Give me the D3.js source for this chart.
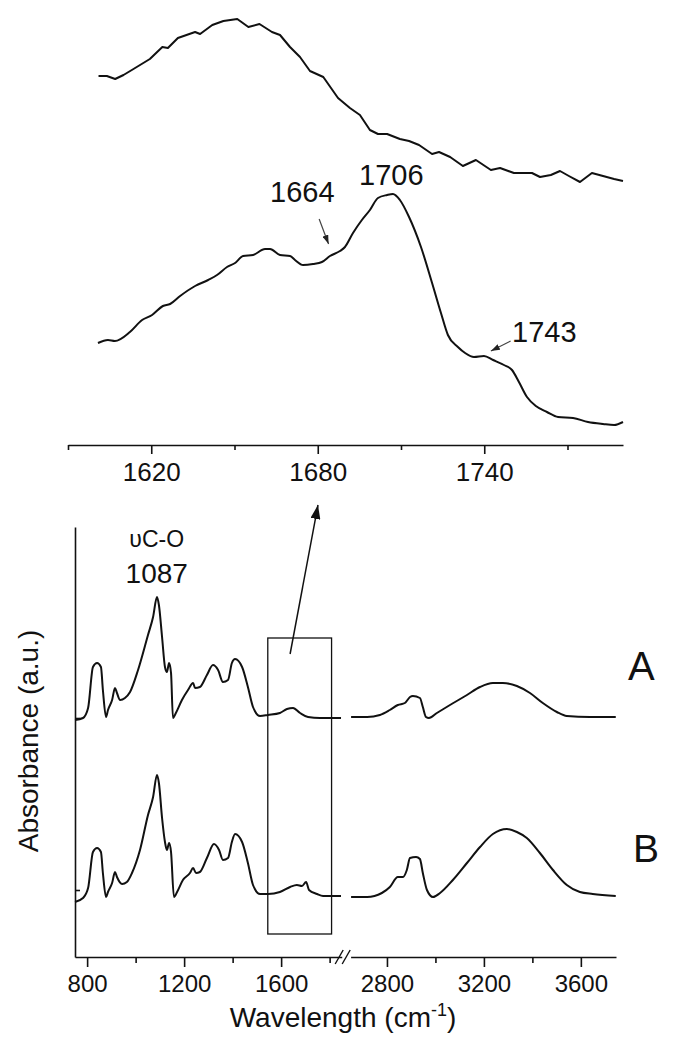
<!DOCTYPE html>
<html><head><meta charset="utf-8">
<script src="https://cdn.jsdelivr.net/npm/d3@7"></script>
<style>body{margin:0;background:#fff}text{font-family:"Liberation Sans",Arial,sans-serif;fill:#111}</style>
</head><body>
<svg id="c" width="700" height="1045"></svg>
<script>
// ---- tick values ----
const insetTicks = [1620, 1680, 1740];
const insetMinor = [1590, 1650, 1710, 1770];
const lowTicks = [800, 1200, 1600];
const lowMinor = [1000, 1400, 1800];
const highTicks = [2800, 3200, 3600];
const highMinor = [3000, 3400];
const yTicks = [67, 239];

// ---- inset (1590-1790 cm-1), absorbance a.u. ----
const insetUpper = [[1601,369],[1604,369],[1607,366],[1610,370],[1613,375],[1619.5,386],[1624,398],[1626,397],[1629.6,407],[1635.8,413],[1637.6,411],[1642,420],[1646,424],[1651,426],[1655,418],[1659,421],[1663.5,413],[1666.4,410],[1670,398],[1673.6,388],[1677.2,374],[1682,368],[1687.3,347],[1691.6,337],[1695.2,330],[1698.8,315],[1701.7,311],[1705,311],[1709.6,306],[1712.9,304],[1716.5,300],[1721.2,291],[1723.7,293],[1727.7,288],[1732.3,279],[1737,285],[1742.4,275],[1745.7,277],[1750.7,272],[1757.2,272],[1760.1,268],[1764,270],[1767.3,274],[1770.5,269],[1774.5,263],[1778.8,272],[1782.8,269],[1786.8,266],[1790,264]];
const insetLower = [[1600.8,102],[1604.4,105],[1606.9,104],[1612.3,113],[1616.7,125],[1620.3,130],[1624.2,139],[1626.8,141],[1630.4,149],[1635.8,159],[1640.5,165],[1643.7,170],[1647.3,178],[1650.2,182],[1653.1,189],[1656.7,190],[1661,196],[1662.8,196],[1666.4,190],[1670,189],[1671.8,185],[1674.7,180],[1678.3,181],[1681.5,183],[1684.4,189],[1688,194],[1689.8,198],[1692.7,212],[1695.9,225],[1698.8,235],[1701.7,247],[1705,250],[1707.1,251],[1709.6,245],[1712.9,228],[1717.2,198],[1721.2,162],[1724.4,132],[1726.9,110],[1730.5,98],[1733.1,92],[1736.3,88],[1739.9,89],[1743.2,85],[1747.1,80],[1750,75],[1752.5,63],[1755.4,48],[1758.6,39],[1762.6,33],[1766.6,28],[1772,27],[1777.4,23],[1782.8,21],[1786.8,20],[1790,23]];

// ---- main spectra, low range (750-1850) and high range (2650-3745) ----
const specA_low = [[750,237],[783,239],[804,249],[824,290],[841,294],[857,290],[865,267],[878,240],[886,247],[903,257],[915,269],[923,264],[936,257],[956,259],[977,265],[1010,287],[1051,322],[1072,340],[1088,360],[1096,352],[1109,320],[1121,290],[1129,285],[1138,294],[1146,284],[1154,239],[1166,244],[1191,257],[1216,267],[1237,274],[1245,269],[1265,270],[1294,282],[1319,292],[1340,287],[1360,275],[1381,277],[1397,294],[1410,298],[1439,290],[1463,270],[1484,250],[1513,241],[1546,242],[1595,244],[1624,248],[1649,249],[1678,244],[1711,240],[1760,239],[1847,239]];
const specB_low = [[750,55],[783,59],[804,69],[824,105],[841,109],[857,105],[865,84],[878,60],[886,65],[903,74],[915,85],[923,80],[944,73],[964,75],[985,84],[1018,107],[1051,142],[1072,160],[1088,182],[1096,174],[1109,139],[1121,115],[1129,107],[1138,114],[1146,105],[1158,60],[1171,65],[1195,77],[1224,84],[1237,89],[1249,84],[1265,85],[1294,99],[1323,113],[1344,107],[1360,97],[1381,99],[1397,115],[1410,123],[1439,115],[1463,94],[1484,72],[1513,63],[1546,63],[1595,65],[1637,70],[1665,72],[1686,71],[1703,75],[1715,67],[1748,63],[1773,61],[1847,61]];
const specA_high = [[2652,240],[2718,240],[2771,242],[2812,247],[2845,252],[2874,254],[2895,260],[2907,261],[2936,259],[2948,250],[2961,240],[2973,239],[3006,244],[3060,252],[3130,262],[3184,270],[3237,274],[3278,274],[3336,271],[3390,264],[3443,254],[3501,245],[3542,241],[3637,240],[3744,240]];
const specB_high = [[2652,60],[2718,60],[2779,64],[2812,70],[2845,80],[2866,80],[2882,87],[2895,99],[2920,100],[2936,98],[2948,84],[2965,67],[2990,60],[3019,64],[3072,77],[3130,94],[3184,110],[3237,123],[3295,128],[3336,125],[3377,119],[3431,104],[3485,87],[3542,72],[3596,65],[3649,63],[3744,61]];

const svg = d3.select("#c");
const ink = "#111";

// ---- scales ----
const xIn = d3.scaleLinear([1590, 1790], [68, 623]);
const yIn = d3.scaleLinear([0, 427], [445, 18]);
const xLo = d3.scaleLinear([750, 1850], [75, 341.75]);
const xHi = d3.scaleLinear([2650, 3745], [350.6, 616]);
const yM = d3.scaleLinear([0, 430], [957, 527]);

function styleAxis(g, fs) {
  g.selectAll("path,line").attr("stroke", ink).attr("stroke-width", 1.6);
  g.selectAll("text").attr("font-size", fs).attr("fill", ink)
    .attr("font-family", '"Liberation Sans",Arial,sans-serif');
}

// ---- inset axis ----
const gIn = svg.append("g").attr("transform", `translate(0,${yIn(0)})`)
  .call(d3.axisBottom(xIn).tickValues(insetTicks).tickSize(9).tickSizeOuter(0).tickPadding(9).tickFormat(d3.format("d")));
styleAxis(gIn, 26);
const gInM = svg.append("g").attr("transform", `translate(0,${yIn(0)})`)
  .call(d3.axisBottom(xIn).tickValues(insetMinor).tickSize(5).tickFormat(""));
gInM.select(".domain").remove();
styleAxis(gInM, 26);

// inset lines
const lineIn = d3.line().x(d => xIn(d[0])).y(d => yIn(d[1]));
svg.append("path").datum(insetUpper).attr("d", lineIn.curve(d3.curveLinear))
  .attr("fill", "none").attr("stroke", ink).attr("stroke-width", 2).attr("stroke-linejoin", "round");
svg.append("path").datum(insetLower).attr("d", d3.line().x(d => xIn(d[0])).y(d => yIn(d[1])).curve(d3.curveMonotoneX))
  .attr("fill", "none").attr("stroke", ink).attr("stroke-width", 2).attr("stroke-linejoin", "round");

// ---- markers ----
const defs = svg.append("defs");
defs.append("marker").attr("id", "big").attr("markerUnits", "userSpaceOnUse")
  .attr("markerWidth", 14).attr("markerHeight", 10).attr("refX", 14).attr("refY", 5).attr("orient", "auto")
  .append("path").attr("d", "M0,0L14,5L0,10Z").attr("fill", ink);
defs.append("marker").attr("id", "small").attr("markerUnits", "userSpaceOnUse")
  .attr("markerWidth", 9).attr("markerHeight", 6).attr("refX", 9).attr("refY", 3).attr("orient", "auto")
  .append("path").attr("d", "M0,0L9,3L0,6Z").attr("fill", "#222");

// inset annotations
const insetLabels = [
  {t: "1664", x: 1662.8, y: 243},
  {t: "1706", x: 1694.9, y: 260},
  {t: "1743", x: 1750, y: 103}
];
svg.selectAll(".il").data(insetLabels).join("text")
  .attr("x", d => xIn(d.x)).attr("y", d => yIn(d.y)).attr("font-size", 29).text(d => d.t);
const insetArrows = [
  {from: [1680.5, 226], to: [1683.9, 201]},
  {from: [1749.5, 104], to: [1742.4, 94]}
];
svg.selectAll(".ia").data(insetArrows).join("line")
  .attr("x1", d => xIn(d.from[0])).attr("y1", d => yIn(d.from[1]))
  .attr("x2", d => xIn(d.to[0])).attr("y2", d => yIn(d.to[1]))
  .attr("stroke", "#444").attr("stroke-width", 1.2).attr("marker-end", "url(#small)");

// ---- main axes ----
const gLo = svg.append("g").attr("transform", `translate(0,${yM(0)})`)
  .call(d3.axisBottom(xLo).tickValues(lowTicks).tickSize(10).tickSizeOuter(0).tickPadding(8).tickFormat(d3.format("d")));
styleAxis(gLo, 24);
const gLoM = svg.append("g").attr("transform", `translate(0,${yM(0)})`)
  .call(d3.axisBottom(xLo).tickValues(lowMinor).tickSize(6).tickFormat(""));
gLoM.select(".domain").remove(); styleAxis(gLoM, 24);
const gHi = svg.append("g").attr("transform", `translate(0,${yM(0)})`)
  .call(d3.axisBottom(xHi).tickValues(highTicks).tickSize(10).tickSizeOuter(0).tickPadding(8).tickFormat(d3.format("d")));
styleAxis(gHi, 24);
const gHiM = svg.append("g").attr("transform", `translate(0,${yM(0)})`)
  .call(d3.axisBottom(xHi).tickValues(highMinor).tickSize(6).tickFormat(""));
gHiM.select(".domain").remove(); styleAxis(gHiM, 24);

const gY = svg.append("g").attr("transform", `translate(${xLo(750)},0)`)
  .call(d3.axisLeft(yM).tickValues(yTicks).tickSize(-5).tickSizeOuter(0).tickFormat(""));
styleAxis(gY, 24);

// axis break
const bx = (xLo.range()[1] + xHi.range()[0]) / 2 - 3;
[bx - 4, bx + 3].forEach(cx => {
  svg.append("line").attr("x1", cx - 4).attr("y1", yM(0) + 7).attr("x2", cx + 4).attr("y2", yM(0) - 7)
    .attr("stroke", ink).attr("stroke-width", 1.4);
});

// spectra
const lineLo = d3.line().x(d => xLo(d[0])).y(d => yM(d[1])).curve(d3.curveMonotoneX);
const lineHi = d3.line().x(d => xHi(d[0])).y(d => yM(d[1])).curve(d3.curveMonotoneX);
[[specA_low, lineLo], [specB_low, lineLo], [specA_high, lineHi], [specB_high, lineHi]].forEach(([d, l]) => {
  svg.append("path").datum(d).attr("d", l).attr("fill", "none").attr("stroke", ink)
    .attr("stroke-width", 2).attr("stroke-linejoin", "round");
});

// zoom box and arrow
const box = {x0: 1545, x1: 1808, y0: 23, y1: 319};
svg.append("rect").attr("x", xLo(box.x0)).attr("y", yM(box.y1))
  .attr("width", xLo(box.x1) - xLo(box.x0)).attr("height", yM(box.y0) - yM(box.y1))
  .attr("fill", "none").attr("stroke", ink).attr("stroke-width", 1.3);
const bigArrow = {from: [1637, 303], to: [1752, 452]};
svg.append("line").attr("x1", xLo(bigArrow.from[0])).attr("y1", yM(bigArrow.from[1]))
  .attr("x2", xLo(bigArrow.to[0])).attr("y2", yM(bigArrow.to[1]))
  .attr("stroke", ink).attr("stroke-width", 1.5).attr("marker-end", "url(#big)");

// labels
svg.append("text").attr("x", xLo(1087)).attr("y", yM(410)).attr("text-anchor", "middle")
  .attr("font-size", 23).attr("fill", "#222").text("υC-O");
svg.append("text").attr("x", xLo(1087)).attr("y", yM(374)).attr("text-anchor", "middle")
  .attr("font-size", 28).text("1087");
svg.append("text").attr("x", xHi(3794)).attr("y", yM(277)).attr("font-size", 40).text("A");
svg.append("text").attr("x", xHi(3815)).attr("y", yM(95)).attr("font-size", 39).text("B");

// axis titles
const xt = svg.append("text").attr("x", 343).attr("y", 1027).attr("text-anchor", "middle").attr("font-size", 28);
xt.append("tspan").text("Wavelength (cm");
xt.append("tspan").attr("dy", -11).attr("font-size", 18).text("-1");
xt.append("tspan").attr("dy", 11).text(")");
svg.append("text").attr("transform", "translate(38,741) rotate(-90)").attr("text-anchor", "middle")
  .attr("font-size", 28).text("Absorbance (a.u.)");
</script>
</body></html>
